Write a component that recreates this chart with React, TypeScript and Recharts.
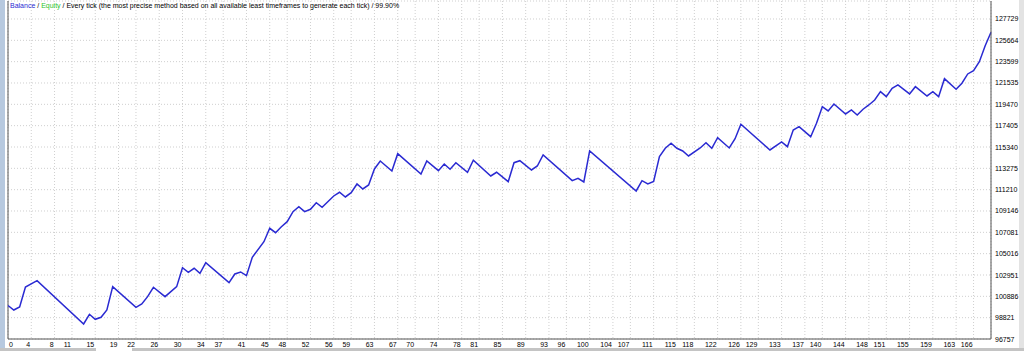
import { LineChart, Line, XAxis, YAxis, CartesianGrid, ReferenceLine } from "recharts";

// trade number of each visible vertex of the balance curve
const TRADE_NO = [
  0, 1, 2, 3, 5, 13, 14, 15, 16, 17, 18, 22, 23, 24, 25, 27, 29, 30, 31, 32, 33, 34, 38, 39, 40, 41, 42,
  44, 45, 46, 47, 48, 49, 50, 51, 52, 53, 54, 56, 57, 58, 59, 60, 61, 62, 63, 64, 66, 67, 71, 72, 74, 75,
  76, 77, 79, 80, 83, 84, 86, 87, 88, 90, 91, 92, 97, 98, 99, 100, 108, 109, 110, 111, 112, 113, 114, 115,
  116, 117, 119, 120, 121, 122, 124, 125, 126, 131, 133, 134, 135, 136, 138, 139, 140, 141, 142, 144, 145,
  146, 147, 148, 149, 150, 151, 152, 153, 155, 156, 158, 159, 160, 161, 163, 164, 165, 166, 167, 168, 169,
];

const BALANCE = [
  100000, 99564, 99855, 101791, 102400, 98209, 99148, 98664, 98858, 99564, 101820, 99826, 100145, 100852,
  101762, 100852, 101820, 103659, 103214, 103601, 103117, 104143, 102207, 103049, 103243, 102884, 104666,
  106176, 107473, 107047, 107628, 108112, 109080, 109564, 109080, 109312, 109951, 109506, 110599, 110958,
  110503, 110919, 111761, 111277, 111664, 113213, 113987, 113019, 114694, 112729, 113987, 113048, 113697,
  113184, 113823, 112894, 114055, 112535, 112894, 111984, 113823, 114016, 113116, 113503, 114568, 112081,
  112313, 111955, 114955, 111083, 112081, 111761, 112003, 114404, 115217, 115701, 115217, 114955, 114471,
  115246, 115759, 115217, 116243, 115246, 116146, 117540, 115052, 115827, 115372, 116988, 117308, 116339,
  117637, 119244, 118827, 119505, 118537, 118924, 118441, 118992, 119408, 119892, 120696, 120211, 121025,
  121344, 120473, 121180, 120280, 120696, 120211, 121955, 120928, 121509, 122409, 122729, 123600, 125149,
  126446,
];

const X_TICKS = [
  0, 4, 8, 11, 15, 19, 22, 26, 30, 34, 37, 41, 45, 48, 52, 56, 59, 63, 67, 70, 74, 78, 81, 85, 89, 93, 96,
  100, 104, 107, 111, 115, 118, 122, 126, 129, 133, 137, 140, 144, 148, 151, 155, 159, 163, 166,
];

const Y_TICKS = [
  96757, 98821, 100886, 102951, 105016, 107081, 109146, 111210, 113275, 115340, 117405, 119470, 121535,
  123599, 125664, 127729,
];

const FONT = "'Liberation Sans', Arial, sans-serif";

const data = TRADE_NO.map((n, i) => ({ n, balance: BALANCE[i] }));

function XTick({ x, y, payload }: any) {
  const first = payload.value === 0;
  return (
    <text x={first ? x + 1 : x - 1} y={y + 8} textAnchor={first ? "start" : "end"} fontSize={7} fontFamily={FONT} fill="#000">
      {payload.value}
    </text>
  );
}

function YTick({ x, y, payload }: any) {
  return (
    <text x={x + 4} y={y + 2.5} textAnchor="start" fontSize={7} fontFamily={FONT} fill="#000">
      {payload.value}
    </text>
  );
}

export default function App() {
  return (
    <div style={{ position: "absolute", left: 0, top: 0, width: 1024, height: 351, background: "#fff", overflow: "hidden" }}>
      <div style={{ position: "absolute", left: 0, top: 0, width: 5, height: 351, background: "#b7c9df" }} />
      <div style={{ position: "absolute", left: 1019, top: 0, width: 5, height: 351, background: "#e3e3e3" }} />
      <div style={{ position: "absolute", left: 0, top: 348, width: 96, height: 3, background: "#c4c4c4" }} />
      <div style={{ position: "absolute", left: 132, top: 348, width: 892, height: 3, background: "#c4c4c4" }} />
      <LineChart
        width={1024}
        height={351}
        data={data}
        margin={{ top: 1, right: 0, bottom: 0, left: 8 }}
        style={{ position: "absolute", left: 0, top: 0 }}
      >
        <CartesianGrid stroke="#cfcfcf" strokeDasharray="1 2" />
        <XAxis
          dataKey="n"
          type="number"
          domain={[0, 169]}
          ticks={X_TICKS}
          interval={0}
          height={12}
          tickSize={0}
          tickMargin={0}
          tickLine={false}
          axisLine={{ stroke: "#555" }}
          tick={<XTick />}
        />
        <YAxis
          orientation="right"
          domain={[96757, 129471]}
          ticks={Y_TICKS}
          interval={0}
          width={33}
          tickSize={0}
          tickMargin={0}
          tickLine={false}
          axisLine={{ stroke: "#555" }}
          tick={<YTick />}
        />
        <ReferenceLine x={0} stroke="#555" />
        <Line
          type="linear"
          dataKey="balance"
          stroke="#2a2ad2"
          strokeWidth={1.5}
          dot={false}
          isAnimationActive={false}
        />
      </LineChart>
      <div style={{ position: "absolute", left: 10, top: 2, fontFamily: FONT, fontSize: 7, lineHeight: "8px", color: "#000", whiteSpace: "nowrap" }}>
        <span style={{ color: "#2a2ad2" }}>Balance</span> / <span style={{ color: "#2bc42b" }}>Equity</span> / Every tick
        (the most precise method based on all available least timeframes to generate each tick) / 99.90%
      </div>
    </div>
  );
}
